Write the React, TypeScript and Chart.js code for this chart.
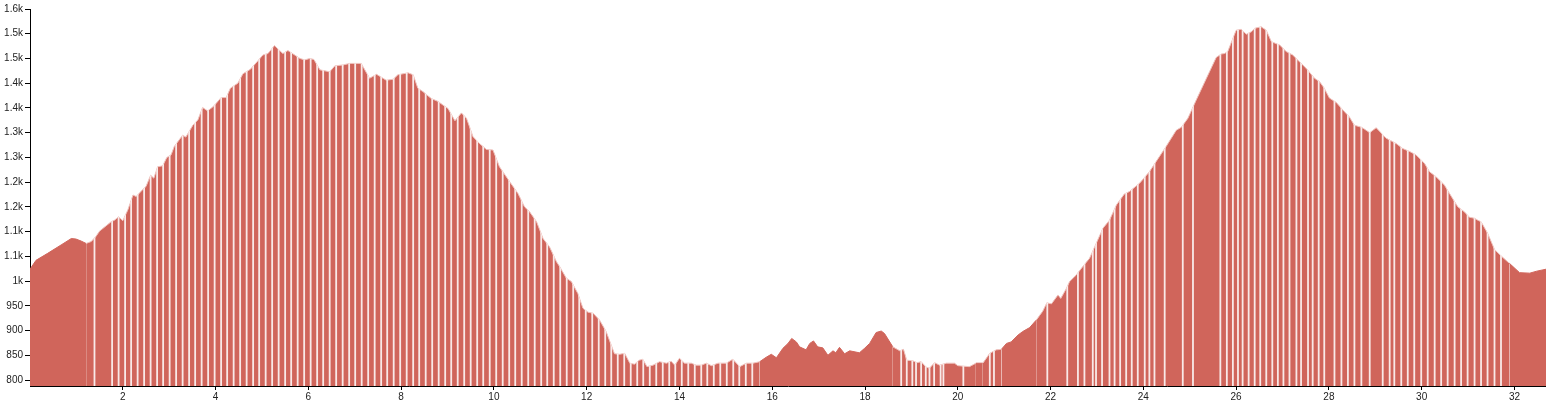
import React, { useEffect, useRef } from 'react';
import { Chart, registerables } from 'chart.js';

Chart.register(...registerables);

// Elevation profile: distance (km) and elevation (m)
const distanceKm = [
  0.00, 0.13, 0.38, 0.67, 0.89, 0.99, 1.10, 1.21, 1.32, 1.42, 1.50, 1.75, 1.82, 1.91, 2.00, 2.11, 2.22, 2.29, 2.43, 2.50,
  2.60, 2.67, 2.75, 2.86, 2.95, 3.04, 3.11, 3.29, 3.36, 3.51, 3.62, 3.72, 3.83, 3.94, 4.01, 4.12, 4.23, 4.32, 4.48, 4.59,
  4.75, 4.91, 5.02, 5.13, 5.27, 5.45, 5.56, 5.82, 5.92, 6.03, 6.12, 6.25, 6.46, 6.57, 6.75, 6.89, 7.14, 7.32, 7.47, 7.68,
  7.83, 7.93, 8.15, 8.26, 8.36, 8.47, 8.65, 8.80, 8.90, 9.01, 9.16, 9.30, 9.41, 9.55, 9.69, 9.84, 9.98, 10.12, 10.34, 10.52,
  10.66, 10.77, 10.92, 11.06, 11.20, 11.35, 11.42, 11.56, 11.67, 11.81, 11.92, 12.03, 12.14, 12.28, 12.42, 12.60, 12.71, 12.82, 12.93, 13.03,
  13.13, 13.21, 13.30, 13.43, 13.57, 13.72, 13.82, 13.90, 14.00, 14.11, 14.26, 14.36, 14.47, 14.58, 14.69, 14.83, 15.01, 15.15, 15.30, 15.44,
  15.58, 15.73, 15.87, 15.98, 16.09, 16.23, 16.34, 16.42, 16.52, 16.59, 16.73, 16.81, 16.89, 16.98, 17.09, 17.20, 17.31, 17.37, 17.45, 17.56,
  17.67, 17.88, 17.99, 18.10, 18.24, 18.35, 18.42, 18.60, 18.75, 18.83, 18.90, 19.03, 19.12, 19.21, 19.32, 19.39, 19.50, 19.61, 19.75, 19.93,
  20.00, 20.25, 20.39, 20.54, 20.69, 20.83, 20.94, 21.05, 21.15, 21.30, 21.40, 21.55, 21.69, 21.83, 21.92, 22.02, 22.16, 22.22, 22.34, 22.41,
  22.55, 22.70, 22.84, 22.95, 23.04, 23.13, 23.27, 23.42, 23.59, 23.70, 23.92, 24.13, 24.49, 24.71, 24.82, 24.96, 25.14, 25.36, 25.57, 25.68,
  25.75, 25.82, 25.89, 26.00, 26.11, 26.22, 26.33, 26.40, 26.54, 26.65, 26.76, 26.94, 27.08, 27.22, 27.37, 27.51, 27.69, 27.80, 27.90, 28.01,
  28.16, 28.30, 28.44, 28.55, 28.70, 28.77, 28.88, 29.02, 29.23, 29.45, 29.59, 29.74, 29.88, 30.06, 30.17, 30.31, 30.49, 30.64, 30.78, 30.92,
  31.03, 31.14, 31.21, 31.28, 31.42, 31.57, 31.71, 31.89, 32.11, 32.33, 32.48, 32.68,
];

const elevationM = [
  1024, 1042, 1056, 1073, 1086, 1085, 1081, 1076, 1080, 1090, 1101, 1120, 1123, 1130, 1122, 1144, 1174, 1171, 1185, 1191,
  1214, 1208, 1231, 1233, 1250, 1255, 1272, 1295, 1291, 1315, 1326, 1351, 1344, 1352, 1359, 1371, 1371, 1390, 1400, 1419,
  1428, 1445, 1457, 1460, 1476, 1460, 1466, 1450, 1447, 1450, 1448, 1427, 1423, 1435, 1437, 1440, 1440, 1410, 1418, 1406,
  1408, 1417, 1421, 1417, 1390, 1383, 1369, 1363, 1356, 1349, 1324, 1340, 1329, 1292, 1278, 1266, 1265, 1231, 1201, 1177,
  1150, 1140, 1120, 1086, 1069, 1039, 1029, 1006, 999, 975, 945, 937, 935, 921, 898, 853, 852, 854, 834, 832,
  840, 842, 827, 830, 837, 834, 838, 830, 844, 834, 834, 830, 830, 834, 829, 834, 834, 842, 827, 834,
  834, 837, 846, 852, 845, 864, 874, 884, 877, 867, 861, 874, 879, 867, 865, 850, 859, 855, 866, 853,
  859, 855, 864, 874, 896, 899, 894, 867, 859, 862, 840, 839, 835, 837, 826, 824, 835, 830, 834, 834,
  829, 827, 834, 834, 854, 861, 862, 874, 877, 891, 898, 906, 921, 939, 956, 954, 972, 965, 985, 999,
  1012, 1030, 1046, 1069, 1088, 1107, 1123, 1154, 1176, 1181, 1198, 1221, 1272, 1305, 1311, 1329, 1366, 1410, 1452, 1459,
  1460, 1464, 1481, 1507, 1509, 1499, 1504, 1511, 1514, 1507, 1484, 1477, 1464, 1457, 1443, 1430, 1410, 1403, 1390, 1370,
  1361, 1346, 1332, 1315, 1311, 1307, 1300, 1310, 1289, 1278, 1268, 1262, 1255, 1238, 1221, 1211, 1194, 1171, 1150, 1140,
  1129, 1127, 1123, 1120, 1097, 1064, 1051, 1036, 1017, 1016, 1020, 1024,
];

// Positions (km) of the thin light stripes separating the segment bars
const stripeKm = [
  1.39,
  1.77, 1.91, 2.05, 2.18, 2.32, 2.46, 2.60, 2.74, 2.87, 3.01, 3.15, 3.29, 3.43, 3.56, 3.70, 3.84, 3.98, 4.12, 4.25, 4.39,
  4.53, 4.67, 4.81, 4.94, 5.08, 5.22, 5.36, 5.50, 5.63, 5.77, 5.91, 6.05, 6.19, 6.32, 6.46, 6.60, 6.74, 6.88, 7.01, 7.15,
  7.29, 7.43, 7.57, 7.70, 7.84, 7.98, 8.12, 8.26, 8.39, 8.53, 8.67, 8.81, 8.95, 9.08, 9.22, 9.36, 9.50, 9.64, 9.77, 9.91,
  10.05, 10.19, 10.33, 10.46, 10.60, 10.74, 10.88, 11.02, 11.15, 11.29, 11.43, 11.57, 11.71, 11.84, 11.98, 12.12, 12.26, 12.40, 12.53, 12.67,
  12.81, 12.95, 13.09, 13.22, 13.36, 13.50, 13.64, 13.78, 13.91, 14.05, 14.19, 14.33, 14.47, 14.60, 14.74, 14.88, 15.02, 15.16, 15.29, 15.43,
  15.57,
  18.78, 18.90, 19.02, 19.10, 19.21, 19.31, 19.39, 19.49, 19.63, 19.69,
  20.12, 20.69, 20.78,
  21.93, 22.36, 22.59, 22.73, 22.91, 22.98,
  23.11, 23.27, 23.38, 23.50, 23.63, 23.75, 23.88, 24.03, 24.13, 24.24, 24.46, 24.85, 25.07,
  25.66, 25.80, 25.93, 26.04, 26.14, 26.27, 26.40, 26.52, 26.65, 26.78, 26.90, 27.02, 27.15, 27.30, 27.40, 27.55, 27.65, 27.78, 27.90,
  28.12, 28.27, 28.41, 28.55, 28.70, 28.88, 29.16, 29.31, 29.41, 29.56, 29.70, 29.84, 29.99, 30.13, 30.28, 30.42, 30.56, 30.71, 30.85, 30.99,
  31.14, 31.28, 31.42, 31.57, 31.71,
];

const xTickValues = [2, 4, 6, 8, 10, 12, 14, 16, 18, 20, 22, 24, 26, 28, 30, 32];
const xTickLabels = ['2', '4', '6', '8', '10', '12', '14', '16', '18', '20', '22', '24', '26', '28', '30', '32'];
const yTickValues = [800, 850, 900, 950, 1000, 1050, 1100, 1150, 1200, 1250, 1300, 1350, 1400, 1450, 1500, 1550];
const yTickLabels = ['800', '850', '900', '950', '1k', '1.1k', '1.1k', '1.2k', '1.2k', '1.3k', '1.3k', '1.4k', '1.4k', '1.5k', '1.5k', '1.6k'];

const X_MIN = 0;
const X_MAX = 32.68;
const Y_MIN = 787.9;
const Y_MAX = 1550;

const FILL = '#d0655b';
const OUTLINE = '#efc3be';
const STRIPE = 'rgba(255,255,255,0.86)';
const FONT = { family: '"Liberation Sans", Arial, sans-serif', size: 10 };

const hasStripeNear = (a: number, b: number) =>
  stripeKm.some((k) => k >= Math.min(a, b) - 0.14 && k <= Math.max(a, b) + 0.14);

const stripePlugin = {
  id: 'segmentStripes',
  afterDatasetDraw(chart: any, args: any) {
    if (args.index !== 0) return;
    const meta = chart.getDatasetMeta(0);
    const pts = meta.data;
    if (!pts || !pts.length) return;
    const { ctx, chartArea, scales } = chart;
    ctx.save();
    ctx.beginPath();
    ctx.rect(chartArea.left, chartArea.top, chartArea.right - chartArea.left, chartArea.bottom - chartArea.top);
    ctx.clip();
    ctx.beginPath();
    ctx.moveTo(pts[0].x, chartArea.bottom);
    for (const p of pts) ctx.lineTo(p.x, p.y);
    ctx.lineTo(pts[pts.length - 1].x, chartArea.bottom);
    ctx.closePath();
    ctx.clip();
    ctx.fillStyle = STRIPE;
    for (const k of stripeKm) {
      const x = scales.x.getPixelForValue(k);
      ctx.fillRect(x - 0.9, chartArea.top, 1.8, chartArea.bottom - chartArea.top);
    }
    ctx.restore();
  },
};

export default function App() {
  const canvasRef = useRef<HTMLCanvasElement | null>(null);

  useEffect(() => {
    if (!canvasRef.current) return;
    const points = distanceKm.map((d, i) => ({ x: d, y: elevationM[i] }));
    const chart = new Chart(canvasRef.current, {
      type: 'line',
      data: {
        datasets: [
          {
            data: points,
            borderWidth: 1,
            borderColor: FILL,
            backgroundColor: FILL,
            fill: 'start',
            pointRadius: 0,
            pointHoverRadius: 0,
            tension: 0,
            segment: {
              borderColor: (c: any) => (hasStripeNear(c.p0.parsed.x, c.p1.parsed.x) ? OUTLINE : FILL),
            },
          },
        ],
      },
      options: {
        animation: false,
        responsive: false,
        parsing: false as any,
        normalized: true,
        layout: { padding: { top: 9, right: 0, bottom: 0, left: 0 } },
        plugins: { legend: { display: false }, tooltip: { enabled: false } },
        scales: {
          x: {
            type: 'linear',
            min: X_MIN,
            max: X_MAX,
            afterBuildTicks: (s: any) => {
              s.ticks = xTickValues.map((v) => ({ value: v }));
            },
            afterFit: (s: any) => {
              s.height = 19;
            },
            ticks: {
              autoSkip: false,
              maxRotation: 0,
              padding: 1,
              color: '#222',
              font: FONT,
              callback: (_v: any, i: number) => xTickLabels[i],
            },
            grid: { drawOnChartArea: false, drawTicks: true, tickLength: 4, color: '#000' },
            border: { display: true, color: '#000', width: 1 },
          },
          y: {
            type: 'linear',
            min: Y_MIN,
            max: Y_MAX,
            afterBuildTicks: (s: any) => {
              s.ticks = yTickValues.map((v) => ({ value: v }));
            },
            afterFit: (s: any) => {
              s.width = 30;
            },
            ticks: {
              autoSkip: false,
              padding: 2,
              color: '#222',
              font: FONT,
              callback: (_v: any, i: number) => yTickLabels[i],
            },
            grid: { drawOnChartArea: false, drawTicks: true, tickLength: 5, color: '#000' },
            border: { display: true, color: '#000', width: 1 },
          },
        },
      },
      plugins: [stripePlugin],
    });
    return () => chart.destroy();
  }, []);

  return (
    <div style={{ position: 'absolute', left: 0, top: 0, width: 1546, height: 405, background: '#fff' }}>
      <canvas ref={canvasRef} width={1546} height={405} style={{ display: 'block' }} />
    </div>
  );
}
